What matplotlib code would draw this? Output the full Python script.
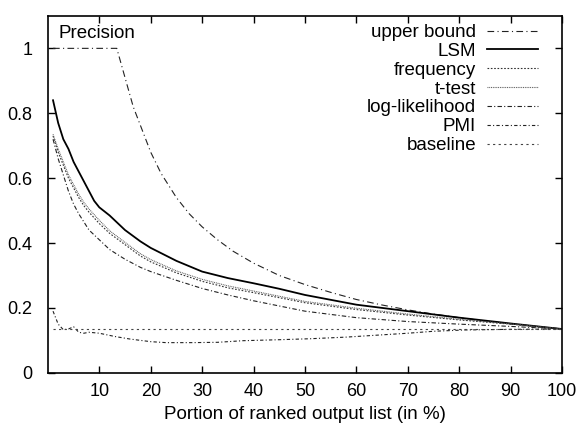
import matplotlib.pyplot as plt
import numpy as np

plt.rcParams['font.family'] = ['Liberation Sans', 'DejaVu Sans']

# portion of ranked list (%) and precision values
x_upper = [1, 5, 10, 13.4, 15, 16.6, 18.3, 20, 22, 25, 27.5, 30, 33, 36, 40, 45, 50, 55, 60, 65, 70, 75, 80, 85, 90, 95, 100]
upper = [1.0, 1.0, 1.0, 1.0, 0.91, 0.82, 0.75, 0.68, 0.615, 0.54, 0.49, 0.45, 0.41, 0.375, 0.338, 0.3, 0.272, 0.248, 0.226, 0.209, 0.194, 0.181, 0.17, 0.16, 0.151, 0.143, 0.135]

x_lsm = [1, 2, 3, 4, 5, 6, 7, 8, 9, 10, 12, 13, 15, 18, 20, 25, 30, 35, 40, 45, 50, 60, 70, 80, 90, 100]
lsm = [0.84, 0.77, 0.72, 0.69, 0.65, 0.62, 0.59, 0.56, 0.53, 0.51, 0.485, 0.47, 0.44, 0.405, 0.385, 0.345, 0.312, 0.292, 0.276, 0.259, 0.24, 0.21, 0.19, 0.17, 0.152, 0.135]

x_freq = [1, 2, 3, 4, 5, 6, 7, 8, 10, 12, 15, 18, 20, 25, 30, 35, 40, 50, 60, 70, 80, 90, 100]
frequency = [0.73, 0.68, 0.64, 0.60, 0.57, 0.54, 0.515, 0.495, 0.46, 0.43, 0.395, 0.36, 0.342, 0.308, 0.282, 0.262, 0.247, 0.216, 0.195, 0.178, 0.163, 0.15, 0.135]
ttest = [0.735, 0.69, 0.65, 0.61, 0.58, 0.55, 0.525, 0.505, 0.47, 0.438, 0.402, 0.367, 0.349, 0.314, 0.288, 0.268, 0.252, 0.22, 0.199, 0.181, 0.165, 0.151, 0.135]

x_ll = [1, 2, 3, 4, 5, 6, 7, 8, 10, 12, 15, 18, 20, 25, 30, 35, 40, 50, 60, 70, 80, 90, 100]
loglik = [0.72, 0.66, 0.61, 0.56, 0.52, 0.49, 0.465, 0.44, 0.41, 0.38, 0.35, 0.325, 0.312, 0.285, 0.26, 0.24, 0.222, 0.19, 0.17, 0.158, 0.15, 0.143, 0.135]

x_pmi = [1, 2, 3, 4, 5, 6, 7, 8, 10, 13, 16, 20, 23, 28, 33, 38, 45, 51, 58, 65, 70, 75, 81, 90, 100]
pmi = [0.19, 0.15, 0.133, 0.135, 0.142, 0.125, 0.122, 0.125, 0.122, 0.112, 0.104, 0.096, 0.093, 0.093, 0.094, 0.099, 0.102, 0.105, 0.11, 0.117, 0.122, 0.128, 0.132, 0.134, 0.135]

x_base = [1, 100]
baseline = [0.135, 0.135]

fig = plt.figure(figsize=(5.77, 4.30), dpi=100)
ax = fig.add_axes([0.083, 0.133, 0.891, 0.830])

ax.plot(x_upper, upper, color='#222222', lw=0.8, ls=(0, (6, 3, 1, 3)), label='upper bound')
ax.plot(x_lsm, lsm, color='black', lw=1.3, ls='-', label='LSM')
ax.plot(x_freq, frequency, color='#333333', lw=0.8, ls=(0, (1.5, 1.5)), label='frequency')
ax.plot(x_freq, ttest, color='#555555', lw=0.8, ls=(0, (0.8, 0.8)), label='t-test')
ax.plot(x_ll, loglik, color='#222222', lw=0.8, ls=(0, (4, 2, 1, 2)), label='log-likelihood')
ax.plot(x_pmi, pmi, color='#222222', lw=0.8, ls=(0, (3, 2, 1, 2)), label='PMI')
ax.plot(x_base, baseline, color='#444444', lw=0.8, ls=(0, (2, 3)), label='baseline')

ax.set_xlim(0, 100)
ax.set_ylim(0, 1.1)
ax.set_xticks(np.arange(10, 101, 10))
ax.set_yticks([0, 0.2, 0.4, 0.6, 0.8, 1.0])
ax.set_yticklabels(['0', '0.2', '0.4', '0.6', '0.8', '1'])
ax.tick_params(direction='in', top=True, right=True, length=5, width=1, labelsize=13)
ax.tick_params(axis='x', pad=7)
ax.tick_params(axis='y', pad=11)
for s in ax.spines.values():
    s.set_linewidth(1.2)

ax.set_xlabel('Portion of ranked output list (in %)', fontsize=13.5, labelpad=5)
ax.text(0.021, 0.95, 'Precision', transform=ax.transAxes, fontsize=13.5, va='center', ha='left')

ax.legend(loc='upper right', frameon=False, markerfirst=False, fontsize=13.5,
          handlelength=2.7, handletextpad=0.6, labelspacing=0.09,
          borderaxespad=0.0, borderpad=0.0, bbox_to_anchor=(0.953, 0.977))

fig.savefig('out.png', dpi=100)
